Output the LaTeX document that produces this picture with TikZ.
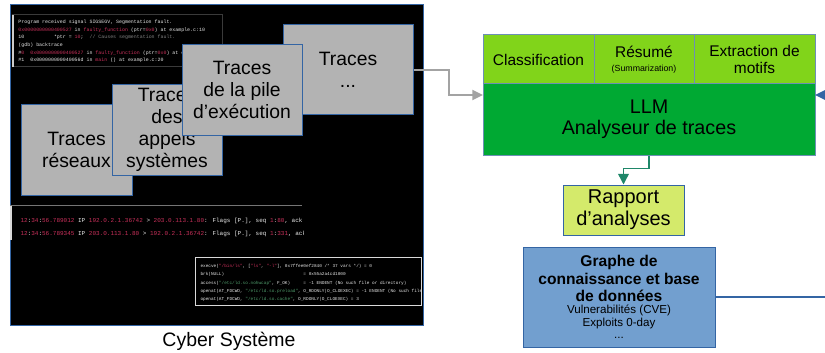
\documentclass[tikz,border=0pt]{standalone}
\usepackage{fontspec}
\setmainfont{Liberation Sans}
\newfontfamily\termfont{Liberation Mono}
\usetikzlibrary{arrows.meta}

\definecolor{boxgray}{HTML}{B3B3B3}
\definecolor{boxedge}{HTML}{3465A4}
\definecolor{celledge}{HTML}{6D8FB5}
\definecolor{lightgreen}{HTML}{81D41A}
\definecolor{darkgreen}{HTML}{00A933}
\definecolor{limefill}{HTML}{D4EA6B}
\definecolor{kgblue}{HTML}{729FCF}
\definecolor{arrowgray}{HTML}{A3A3A3}
\definecolor{arrowteal}{HTML}{1F8769}
\definecolor{arrowblue}{HTML}{3465A4}
\definecolor{termred}{HTML}{C8305A}
\definecolor{termgreen}{HTML}{4E9A6A}
\definecolor{termtext}{HTML}{E6E6E6}
\definecolor{termgray}{HTML}{808080}
\definecolor{termedge}{HTML}{3A3A3A}

\newcommand\hlred[1]{\textcolor{termred}{#1}}
\newcommand\hlgreen[1]{\textcolor{termgreen}{#1}}
\newcommand\hlgray[1]{\textcolor{termgray}{#1}}
\newcommand\termpad[1]{\hspace*{#1\fontcharwd\font`0}}
\newcommand\kgsmall{\mdseries\fontsize{8.7}{9.2}\selectfont}

\tikzset{every picture/.style={line width=0.75pt}}
\tikzset{
  tracebox/.style={draw=boxedge, fill=boxgray, inner sep=0pt, minimum height=67.5pt,
    align=center, font=\fontsize{14.5}{16.5}\selectfont},
  taskbox/.style={draw=celledge, fill=lightgreen, inner sep=0pt, minimum height=36.75pt,
    align=center, font=\fontsize{11.6}{13}\selectfont},
  gdbline/.style={anchor=base west, inner sep=0pt, text=termtext,
    font=\termfont\fontsize{3.7}{4}\selectfont},
  tcpline/.style={anchor=base west, inner sep=0pt, text=termtext,
    font=\termfont\fontsize{4.5}{5}\selectfont},
  straceline/.style={anchor=base west, inner sep=0pt, text=termtext,
    font=\termfont\fontsize{3.3}{4}\selectfont},
  grayarrow/.style={draw=arrowgray, line width=1.5pt, -{Triangle[length=8pt,width=7.5pt]}},
  tealarrow/.style={draw=arrowteal, line width=1.1pt, -{Triangle[length=8pt,width=8pt]}},
  bluearrow/.style={draw=arrowblue, line width=1.5pt, -{Triangle[length=8pt,width=7.5pt]}}
}

\begin{document}
\begin{tikzpicture}[x=0.75pt,y=0.75pt,yscale=-1,xscale=1]
\useasboundingbox (0,0) rectangle (825,353);

%Cyber system screen
\draw [draw=boxedge, fill=black] (10,5) rectangle (423,325);

%gdb window
\draw [draw=termedge, fill=black] (12,15) rectangle (222,67);
\draw [white!80!black, line width=1.5pt] (12.5,15) -- (12.5,67);
\node [gdbline] (gdbA) at (18,23.5) {Program received signal SIGSEGV, Segmentation fault.};
\node [gdbline] (gdbB) at (18,31.2) {\hlred{0x0000000000400527} in \hlred{faulty\_function} (ptr=\hlred{0x0}) at example.c:10};
\node [gdbline] (gdbC) at (18,38.9) {10\termpad{10}*ptr = \hlred{10};\termpad{2}\hlgray{// Causes segmentation fault.}};
\node [gdbline] (gdbD) at (18,46.6) {(gdb) backtrace};
\node [gdbline] (gdbE) at (18,54.3) {\#\hlred{0}\termpad{2}\hlred{0x0000000000400527} in \hlred{faulty\_function} (ptr=\hlred{0x0}) at example.c:10};
\node [gdbline] (gdbF) at (18,62) {\#1\termpad{2}0x000000000040056d in \hlred{main} () at example.c:20};

%tcpdump window
\draw [termedge!70!white] (10,205.5) -- (302,205.5);
\draw [white!85!black, line width=1.5pt] (11,206) -- (11,240);
\begin{scope}
\clip (12,206) rectangle (303,245);
\node [tcpline] (tcpA) at (20,222) {\hlred{12}:\hlred{34}:\hlred{56.789012} IP \hlred{192.0.2.1.36742} > \hlred{203.0.113.1.80}: Flags [P.], seq \hlred{1}:\hlred{80}, ack 1};
\node [tcpline] (tcpB) at (20,235) {\hlred{12}:\hlred{34}:\hlred{56.789345} IP \hlred{203.0.113.1.80} > \hlred{192.0.2.1.36742}: Flags [P.], seq \hlred{1}:\hlred{331}, ack 80};
\end{scope}

%strace window
\draw [draw=white!85!black, fill=black] (195,257) rectangle (421,305);
\begin{scope}
\clip (196,258) rectangle (420,304);
\node [straceline] (stA) at (200,267.5) {execve(\hlred{"/bin/ls"}, [\hlred{"ls"}, \hlred{"-l"}], 0x7ffee0ef2840 /* 37 vars */) = 0};
\node [straceline] (stB) at (200,275.8) {brk(NULL)\termpad{30}= 0x55a2a4cd1000};
\node [straceline] (stC) at (200,284.1) {access(\hlgreen{"/etc/ld.so.nohwcap"}, F\_OK)\termpad{5}= -1 ENOENT (No such file or directory)};
\node [straceline] (stD) at (200,292.4) {openat(AT\_FDCWD, \hlgreen{"/etc/ld.so.preload"}, O\_RDONLY|O\_CLOEXEC) = -1 ENOENT (No such file or directory)};
\node [straceline] (stE) at (200,300.7) {openat(AT\_FDCWD, \hlgreen{"/etc/ld.so.cache"}, O\_RDONLY|O\_CLOEXEC) = 3};
\end{scope}

%trace cards
\node [tracebox, minimum width=83.25pt] (net) at (76.5,150) {Traces\\réseaux};
\node [tracebox, minimum width=82.5pt] (sys) at (167,130) {Traces\\des\\appels\\systèmes};
\node [tracebox, minimum width=97.5pt] (other) at (348,70) {Traces\\...};
\node [tracebox, minimum width=90pt] (stack) at (242,90) {Traces\\de la pile\\d’exécution};

% Text Node
\node [font=\fontsize{14.6}{16}\selectfont] (cyber) at (229,341) {Cyber Système};

%LLM block
\node [taskbox, minimum width=83.25pt] (classif) at (538.5,59.5) {Classification};
\node [taskbox, minimum width=75pt] (resume) at (644,59.5) {Résumé\\[-2.5pt]{\fontsize{6.6}{7}\selectfont(Summarization)}};
\node [taskbox, minimum width=90.75pt] (motifs) at (754.5,59.5) {Extraction de\\motifs};
\node [draw=celledge, fill=darkgreen, inner sep=0pt, minimum width=249pt, minimum height=53.25pt,
  align=center, font=\fontsize{14.8}{15.8}\selectfont] (llm) at (649,119.5) {LLM\\Analyseur de traces};

\node [draw=boxedge, fill=limefill, inner sep=0pt, minimum width=90.75pt, minimum height=37.5pt,
  align=center, font=\fontsize{15}{16.5}\selectfont] (report) at (623.5,210) {Rapport\\d’analyses};

\node [draw=boxedge, fill=kgblue, inner sep=0pt, minimum width=144pt, minimum height=75pt,
  align=center, font=\bfseries\fontsize{11.7}{12.9}\selectfont] (kg) at (619,297)
  {Graphe de\\connaissance et base\\de données\\[-3.5pt]\kgsmall Vulnerabilités (CVE)\\[-3.7pt]\kgsmall Exploits 0-day\\[-3.7pt]\kgsmall ...};

%connectors
\coordinate (grayin) at (483,95);
\coordinate (bluein) at (815,95);
\draw [grayarrow] (other.east) -- ++(35,0) |- (grayin);
\draw [tealarrow] (llm.south) -- ++(0,13) -| (report.north);
\draw [bluearrow] (kg.east) -- ++(115,0) |- (bluein);

\end{tikzpicture}
\end{document}
